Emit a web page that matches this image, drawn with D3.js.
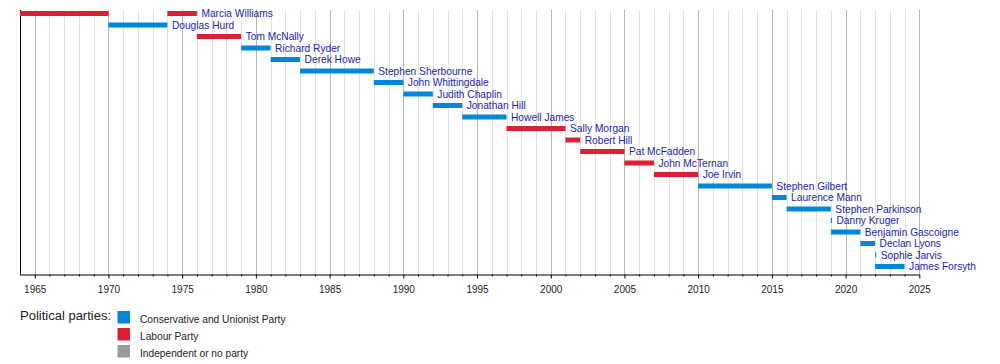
<!DOCTYPE html>
<html>
<head>
<meta charset="utf-8">
<script src="https://cdn.jsdelivr.net/npm/d3@7"></script>
<style>
  html, body { margin: 0; padding: 0; background: #fff; }
  svg { display: block; }
  text { font-family: "Liberation Sans", Arial, sans-serif; }
</style>
</head>
<body>
<svg id="chart" width="1000" height="364"></svg>
<script>
// ---- data ----
const termHolders = ["Marcia Williams", "Douglas Hurd", "Marcia Williams", "Tom McNally", "Richard Ryder",
  "Derek Howe", "Stephen Sherbourne", "John Whittingdale", "Judith Chaplin", "Jonathan Hill",
  "Howell James", "Sally Morgan", "Robert Hill", "Pat McFadden", "John McTernan", "Joe Irvin",
  "Stephen Gilbert", "Laurence Mann", "Stephen Parkinson", "Danny Kruger", "Benjamin Gascoigne",
  "Declan Lyons", "Sophie Jarvis", "James Forsyth"];
const termParties = ["Lab", "Con", "Lab", "Lab", "Con", "Con", "Con", "Con", "Con", "Con", "Con",
  "Lab", "Lab", "Lab", "Lab", "Lab", "Con", "Con", "Con", "Con", "Con", "Con", "Con", "Con"];
const termStarts = [1964.0, 1970.0, 1974.0, 1976.0, 1979.0, 1981.0, 1983.0, 1988.0, 1990.0, 1992.0,
  1994.0, 1997.0, 2001.0, 2002.0, 2005.0, 2007.0, 2010.0, 2015.0, 2016.0, 2019.0, 2019.0,
  2021.0, 2022.0, 2022.0];
const termEnds = [1970.0, 1974.0, 1976.0, 1979.0, 1981.0, 1983.0, 1988.0, 1990.0, 1992.0, 1994.0,
  1997.0, 2001.0, 2002.0, 2005.0, 2007.0, 2010.0, 2015.0, 2016.0, 2019.0, 2019.08, 2021.0,
  2022.0, 2022.08, 2024.0];
const tickYears = [1965, 1970, 1975, 1980, 1985, 1990, 1995, 2000, 2005, 2010, 2015, 2020, 2025];
const partyKeys = ["Con", "Lab", "Ind"];
const partyNames = ["Conservative and Unionist Party", "Labour Party", "Independent or no party"];
const partyColors = ["#0087DC", "#DC1F35", "#9A9A9A"];
const legendTitle = "Political parties:";
const yearStart = 1964, yearEnd = 2025;

// ---- layout ----
const svg = d3.select("#chart");
const plotLeft = 20, plotRight = 919.3, plotTop = 10, axisY = 274.5;
const x = d3.scaleLinear().domain([yearStart, yearEnd]).range([plotLeft, plotRight]);
const rows = Array.from(new Set(termHolders));
const y = d3.scalePoint().domain(rows).range([13.5, 266.5]);
const color = d3.scaleOrdinal().domain(partyKeys).range(partyColors);

const allYears = d3.range(yearStart + 1, yearEnd + 1);
const minorYears = allYears.filter(v => v % 5 !== 0);
// minor gridlines
svg.append("g").selectAll("line").data(minorYears).join("line")
  .attr("x1", d => Math.round(x(d)) + 0.5).attr("x2", d => Math.round(x(d)) + 0.5)
  .attr("y1", plotTop).attr("y2", axisY)
  .attr("stroke", "#e2e2e2").attr("stroke-width", 1);
// major gridlines
svg.append("g").selectAll("line").data(tickYears).join("line")
  .attr("x1", d => Math.round(x(d)) + 0.5).attr("x2", d => Math.round(x(d)) + 0.5)
  .attr("y1", plotTop).attr("y2", axisY)
  .attr("stroke", "#b4b4b4").attr("stroke-width", 1);

// left frame line
svg.append("line").attr("x1", plotLeft + 0.5).attr("x2", plotLeft + 0.5)
  .attr("y1", plotTop).attr("y2", axisY).attr("stroke", "#000");

// bars
const terms = termHolders.map((h, i) => ({ h, p: termParties[i], s: termStarts[i], e: termEnds[i] }));
svg.append("g").selectAll("rect").data(terms).join("rect")
  .attr("x", d => x(d.s))
  .attr("width", d => Math.max(1, x(d.e) - x(d.s)))
  .attr("y", d => y(d.h) - 2.5)
  .attr("height", 5)
  .attr("fill", d => color(d.p));

// labels
const lastEnd = rows.map(r => d3.max(terms.filter(t => t.h === r), t => t.e));
svg.append("g").selectAll("text").data(rows).join("text")
  .attr("x", (d, i) => x(lastEnd[i]) + 4.5)
  .attr("y", d => y(d) + 3.8)
  .attr("font-size", "10.2px")
  .attr("fill", "#1c1cb0")
  .text(d => d);

// axis
const axis = d3.axisBottom(x).tickValues(allYears).tickSize(2).tickFormat("");
const gAxis = svg.append("g").attr("transform", `translate(0,${axisY})`).call(axis);
gAxis.select(".domain").attr("d", `M${plotLeft},0.5H${plotRight}`).attr("stroke", "#000");
gAxis.selectAll(".tick line").attr("stroke", "#000")
  .attr("y2", d => d % 5 === 0 ? 4 : 2);
const labelAxis = d3.axisBottom(x).tickValues(tickYears).tickSize(0).tickFormat(d3.format("d"));
const gLab = svg.append("g").attr("transform", `translate(0,${axisY})`).call(labelAxis);
gLab.select(".domain").remove();
gLab.selectAll(".tick text")
  .attr("y", 0).attr("dy", "18.5px")
  .attr("font-size", "10px")
  .attr("font-family", "\"Liberation Sans\", Arial, sans-serif")
  .attr("fill", "#222");

// legend
svg.append("text").attr("x", 20).attr("y", 320.3)
  .attr("font-size", "13px").attr("fill", "#222").text(legendTitle);
const lg = svg.append("g").selectAll("g").data(partyKeys).join("g")
  .attr("transform", (d, i) => `translate(117.5,${311 + i * 17})`);
lg.append("rect").attr("width", 12.5).attr("height", 12.5).attr("fill", d => color(d));
lg.append("text").attr("x", 22.5).attr("y", 11.5)
  .attr("font-size", "10.2px").attr("fill", "#222")
  .text((d, i) => partyNames[i]);
</script>
</body>
</html>
